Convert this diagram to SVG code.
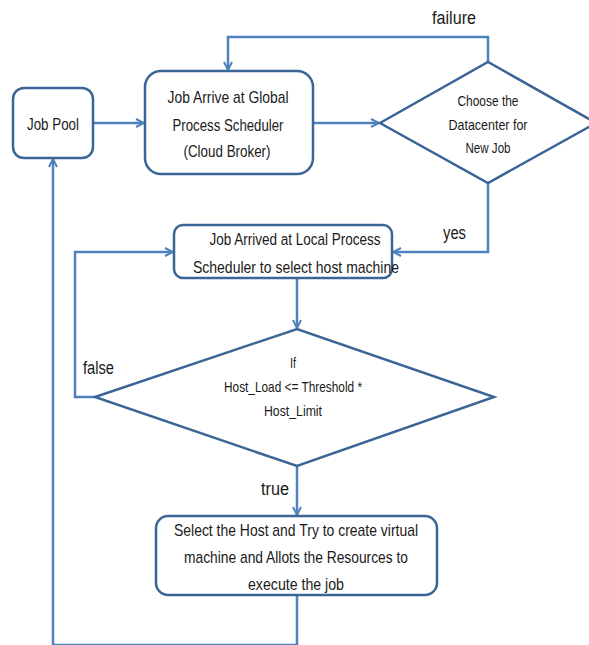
<svg xmlns="http://www.w3.org/2000/svg" width="589" height="645" viewBox="0 0 589 645">
<defs>
<style>
.box{fill:#fff;stroke:#3B6596;stroke-width:2.5}
.con{fill:none;stroke:#4F81BD;stroke-width:2.5}
text{font-family:"Liberation Sans",Arial,sans-serif;fill:#1a1a1a;text-anchor:middle}
.t{font-size:17px}
.s{font-size:15px}
.l{font-size:18px;text-anchor:start}
</style>
<marker id="ah" viewBox="0 0 10 10" refX="9" refY="5" markerWidth="10" markerHeight="10" markerUnits="userSpaceOnUse" orient="auto">
<path d="M1,1 L9,5 L1,9" fill="none" stroke="#4F81BD" stroke-width="2"/>
</marker>
</defs>
<rect width="589" height="645" fill="#fff"/>
<g id="connectors">
<line class="con" x1="93" y1="123" x2="144" y2="123" marker-end="url(#ah)"/>
<line class="con" x1="313" y1="123" x2="379" y2="123" marker-end="url(#ah)"/>
<polyline class="con" points="488,62 488,37 228,37 228,70" marker-end="url(#ah)"/>
<polyline class="con" points="488,183 488,252 393,252" marker-end="url(#ah)"/>
<line class="con" x1="297" y1="278" x2="297" y2="328" marker-end="url(#ah)"/>
<polyline class="con" points="95,397 75,397 75,252 173,252" marker-end="url(#ah)"/>
<line class="con" x1="297" y1="466" x2="297" y2="515" marker-end="url(#ah)"/>
<polyline class="con" points="297,595 297,645 53,645 53,159" marker-end="url(#ah)"/>
<text class="l" x="432" y="24" textLength="44" lengthAdjust="spacingAndGlyphs">failure</text>
<text class="l" x="443" y="239" textLength="23" lengthAdjust="spacingAndGlyphs">yes</text>
<text class="l" x="83" y="374" textLength="31" lengthAdjust="spacingAndGlyphs">false</text>
<text class="l" x="261" y="495" textLength="28" lengthAdjust="spacingAndGlyphs">true</text>
</g>
<g id="job-pool">
<rect class="box" x="13" y="88" width="80" height="70" rx="11"/>
<text class="t" x="53" y="130" textLength="52" lengthAdjust="spacingAndGlyphs">Job Pool</text>
</g>
<g id="global-scheduler">
<rect class="box" x="145" y="71" width="168" height="103" rx="16"/>
<text class="t" x="228" y="103" textLength="121" lengthAdjust="spacingAndGlyphs">Job Arrive at Global</text>
<text class="t" x="228" y="131" textLength="111" lengthAdjust="spacingAndGlyphs">Process Scheduler</text>
<text class="t" x="227" y="157" textLength="87" lengthAdjust="spacingAndGlyphs">(Cloud Broker)</text>
</g>
<g id="choose-datacenter">
<polygon class="box" points="380,123 488,62 596,123 488,183"/>
<text class="s" x="488" y="106" textLength="61" lengthAdjust="spacingAndGlyphs">Choose the</text>
<text class="s" x="488" y="130" textLength="79" lengthAdjust="spacingAndGlyphs">Datacenter for</text>
<text class="s" x="488" y="153" textLength="45" lengthAdjust="spacingAndGlyphs">New Job</text>
</g>
<g id="local-scheduler">
<rect class="box" x="174" y="225" width="218" height="53" rx="9"/>
<text class="t" x="295" y="245" textLength="171" lengthAdjust="spacingAndGlyphs">Job Arrived at Local Process</text>
<text class="t" x="296" y="273" textLength="206" lengthAdjust="spacingAndGlyphs">Scheduler to select host machine</text>
</g>
<g id="host-check">
<polygon class="box" points="95,397 297,329 494,397 297,466"/>
<text class="s" x="293" y="368" textLength="6" lengthAdjust="spacingAndGlyphs">If</text>
<text class="s" x="293" y="392" textLength="138" lengthAdjust="spacingAndGlyphs">Host_Load &lt;= Threshold *</text>
<text class="s" x="293" y="416" textLength="58" lengthAdjust="spacingAndGlyphs">Host_Limit</text>
</g>
<g id="select-host">
<rect class="box" x="156" y="516" width="281" height="79" rx="12"/>
<text class="t" x="296" y="536" textLength="244" lengthAdjust="spacingAndGlyphs">Select the Host and Try to create virtual</text>
<text class="t" x="296" y="563" textLength="224" lengthAdjust="spacingAndGlyphs">machine and Allots the Resources to</text>
<text class="t" x="296" y="590" textLength="96" lengthAdjust="spacingAndGlyphs">execute the job</text>
</g>
</svg>
